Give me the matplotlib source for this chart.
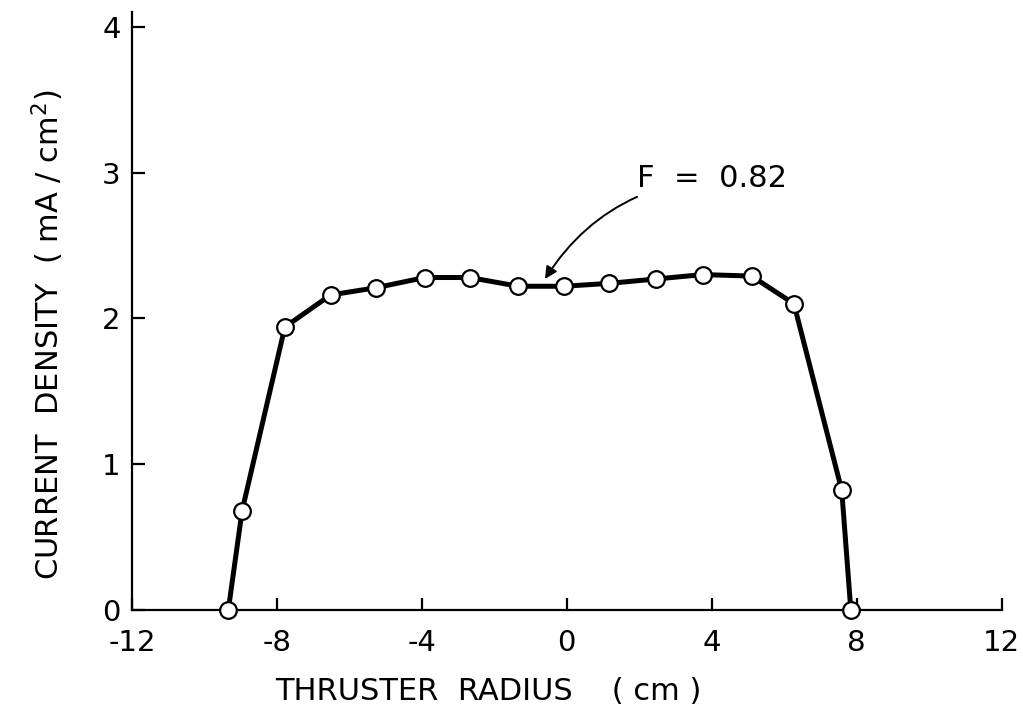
import matplotlib.pyplot as plt

# Beam current density profile across thruster radius
radius = [-9.34, -8.96, -7.78, -6.52, -5.26, -3.92, -2.68, -1.34, -0.08,
          1.18, 2.47, 3.75, 5.10, 6.27, 7.59, 7.84]
density = [0.0, 0.68, 1.94, 2.16, 2.21, 2.28, 2.28, 2.22, 2.22,
           2.24, 2.27, 2.30, 2.29, 2.10, 0.82, 0.0]

xticks = [-12, -8, -4, 0, 4, 8, 12]
xticklabels = ['-12', '-8', '-4', '0', '4', '8', '12']
yticks = [0, 1, 2, 3, 4]

fig = plt.figure(figsize=(10.23, 7.25), dpi=100)
ax = fig.add_axes([0.129, 0.159, 0.850, 0.824])

ax.plot(radius, density, color='black', linewidth=3.6, zorder=2, clip_on=False)
ax.plot(radius, density, linestyle='none', marker='o', markersize=12,
        markerfacecolor='white', markeredgecolor='black', markeredgewidth=1.6,
        zorder=3, clip_on=False)

ax.annotate('F  =  0.82', xy=(-0.6, 2.27), xytext=(1.95, 2.96),
            fontsize=22, va='center', ha='left',
            arrowprops=dict(arrowstyle='-|>', color='black', lw=1.4,
                            mutation_scale=18, shrinkA=2, shrinkB=0,
                            connectionstyle='arc3,rad=0.25'))

ax.set_xlim(-12, 12)
ax.set_ylim(0, 4.1)
ax.set_xticks(xticks)
ax.set_xticklabels(xticklabels)
ax.set_yticks(yticks)

for s in ['top', 'right']:
    ax.spines[s].set_visible(False)
for s in ['left', 'bottom']:
    ax.spines[s].set_linewidth(1.6)

ax.tick_params(direction='in', length=9, width=1.6, labelsize=21)
ax.tick_params(axis='x', pad=14)
ax.tick_params(axis='y', pad=8)

ax.set_xlabel('THRUSTER  RADIUS    ( cm )', fontsize=22, labelpad=14)
ax.xaxis.label.set_x(0.41)
ax.set_ylabel('CURRENT  DENSITY  ( mA / cm$^2$)', fontsize=22, labelpad=26)
ax.yaxis.label.set_y(0.46)

fig.savefig('out.png', dpi=100)
